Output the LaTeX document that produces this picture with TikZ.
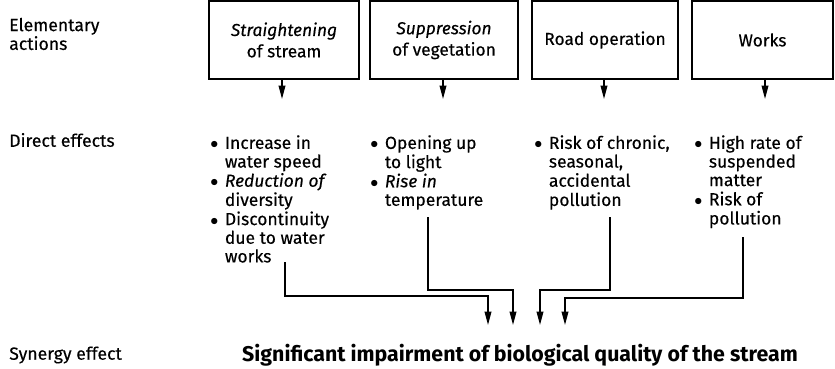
\documentclass[tikz,border=0pt]{standalone}
\usepackage{fontspec}
\setmainfont{Fira Sans}[UprightFeatures={FakeBold=0.3}, ItalicFeatures={FakeBold=0.3}]
\usetikzlibrary{arrows.meta}

\begin{document}
\begin{tikzpicture}[
    x=0.75pt, y=-0.75pt,
    % estilos
    action/.style={rectangle, draw=black, line width=1.1pt, minimum height=58.5pt, inner sep=2pt, align=center, font=\fontsize{13}{16}\selectfont},
    effect/.style={anchor=north west, inner sep=0pt, font=\fontsize{13.1}{13.9}\selectfont},
    rowlabel/.style={anchor=west, inner sep=0pt, align=left, font=\fontsize{13.2}{12.75}\selectfont},
    synergy/.style={font=\bfseries\fontsize{16}{18}\selectfont},
    tick/.style={-{Triangle[length=10pt, width=5pt]}, line width=1.1pt},
    flow/.style={-{Triangle[length=10pt, width=5pt]}, line width=1.1pt}
]
\useasboundingbox (0,0) rectangle (835,368);

% --- ROW LABELS ---
\node[rowlabel] (lblact) at (9,34) {Elementary\\actions};
\node[rowlabel] (lbldir) at (9,140) {Direct effects};
\node[rowlabel] (lblsyn) at (9,355) {Synergy effect};

% --- ELEMENTARY ACTIONS ---
\node[action, minimum width=112.5pt] (straight) at (284,40) {\textit{Straightening}\\of stream};
\node[action, minimum width=111pt] (suppr) at (444,40) {\textit{Suppression}\\of vegetation};
\node[action, minimum width=109.5pt] (road) at (605,40) {Road operation};
\node[action, minimum width=105.75pt] (works) at (762.5,40) {Works};

\coordinate (e1) at (282,99);
\coordinate (e2) at (443,99);
\coordinate (e3) at (604,99);
\coordinate (e4) at (765,99);
\draw[tick] (straight.south -| e1) -- (e1);
\draw[tick] (suppr.south -| e2) -- (e2);
\draw[tick] (road.south -| e3) -- (e3);
\draw[tick] (works.south -| e4) -- (e4);

% --- DIRECT EFFECTS ---
\node[effect] (fx1) at (210,135) {\begin{tabular}{@{}l@{\hspace{5pt}}l@{}}
  $\bullet$ & Increase in\\ & water speed\\
  $\bullet$ & \textit{Reduction of}\\ & diversity\\
  $\bullet$ & Discontinuity\\ & due to water\\ & works
\end{tabular}};
\node[effect] (fx2) at (370,135) {\begin{tabular}{@{}l@{\hspace{5pt}}l@{}}
  $\bullet$ & Opening up\\ & to light\\
  $\bullet$ & \textit{Rise in}\\ & temperature
\end{tabular}};
\node[effect] (fx3) at (534,135) {\begin{tabular}{@{}l@{\hspace{5pt}}l@{}}
  $\bullet$ & Risk of chronic,\\ & seasonal,\\ & accidental\\ & pollution
\end{tabular}};
\node[effect] (fx4) at (694,135) {\begin{tabular}{@{}l@{\hspace{5pt}}l@{}}
  $\bullet$ & High rate of\\ & suspended\\ & matter\\
  $\bullet$ & Risk of\\ & pollution
\end{tabular}};

% --- SYNERGY EFFECT ---
\node[synergy] (syn) at (520,355) {Significant impairment of biological quality of the stream};

\coordinate (s1) at (285,262);
\coordinate (s2) at (428,217);
\coordinate (s3) at (610,217);
\coordinate (s4) at (743,237);
\coordinate (t1) at (488,325);
\coordinate (t2) at (513,325);
\coordinate (t3) at (540,325);
\coordinate (t4) at (565,325);

\draw[flow] (s1) -- ++(0,34) -| (t1);
\draw[flow] (s2) -- ++(0,73) -| (t2);
\draw[flow] (s3) -- ++(0,73) -| (t3);
\draw[flow] (s4) -- ++(0,61) -| (t4);

\end{tikzpicture}
\end{document}
